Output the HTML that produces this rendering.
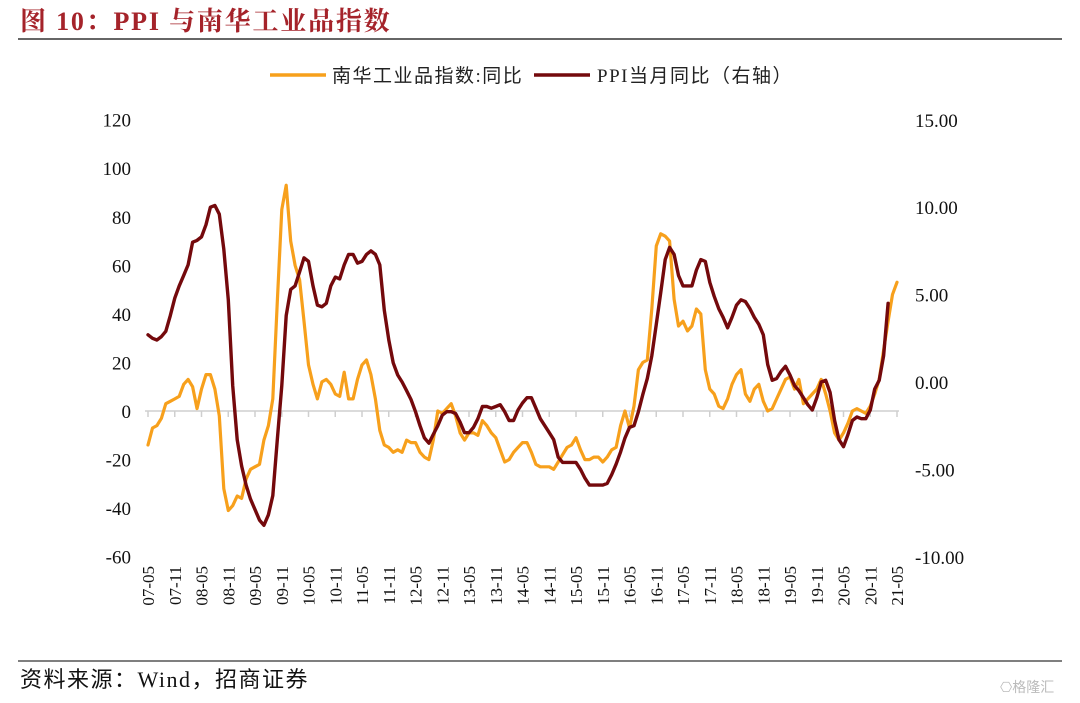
<!DOCTYPE html>
<html><head><meta charset="utf-8">
<style>
body{margin:0;background:#fff;}
#wrap{position:relative;width:1080px;height:703px;overflow:hidden;font-family:"Liberation Serif","Noto Serif CJK SC",serif;}
</style></head>
<body>
<div id="wrap">
<svg id="chart" width="1080" height="703" viewBox="0 0 1080 703" xmlns="http://www.w3.org/2000/svg">
  <text x="20" y="30" font-size="26" font-weight="bold" letter-spacing="1.8" fill="#a5232a" font-family="'Liberation Serif','Noto Serif CJK SC',serif">图 10：PPI 与南华工业品指数</text>
  <line x1="18" y1="39" x2="1062" y2="39" stroke="#333" stroke-width="1.5"/>
  <g>
    <g>
      <line x1="270" y1="75" x2="326" y2="75" stroke="#f7a01c" stroke-width="3.5"/>
      <text x="332" y="82" font-size="19" letter-spacing="1.5" fill="#222" font-family="'Liberation Serif','Noto Sans CJK SC',serif">南华工业品指数:同比</text>
    </g>
    <g>
      <line x1="534" y1="75" x2="590" y2="75" stroke="#74090c" stroke-width="3.5"/>
      <text x="597" y="82" font-size="19" letter-spacing="1.5" fill="#222" font-family="'Liberation Serif','Noto Sans CJK SC',serif">PPI当月同比（右轴）</text>
    </g>
  </g>
  <g id="axes"></g>
  <g id="series"></g>
  <line x1="18" y1="661" x2="1062" y2="661" stroke="#333" stroke-width="1.2"/>
  <text x="20" y="687" font-size="22" letter-spacing="1.5" fill="#111" font-family="'Liberation Serif','Noto Sans CJK SC',serif">资料来源：Wind，招商证券</text>
  <text x="1000" y="692" font-size="14" fill="#bbb" font-family="'Liberation Sans','Noto Sans CJK SC',sans-serif">⎔格隆汇</text>
</svg>
</div>
<script>
const leftTicks = [120,100,80,60,40,20,0,-20,-40,-60];
const rightTicks = ["15.00","10.00","5.00","0.00","-5.00","-10.00"];
const xLabels = ["07-05","07-11","08-05","08-11","09-05","09-11","10-05","10-11","11-05","11-11","12-05","12-11","13-05","13-11","14-05","14-11","15-05","15-11","16-05","16-11","17-05","17-11","18-05","18-11","19-05","19-11","20-05","20-11","21-05"];
const nanhua = [-14,-7,-6,-3,3,4,5,6,11,13,10,1,9,15,15,9,-2,-32,-41,-39,-35,-36,-28,-24,-23,-22,-12,-6,5,45,83,93,70,60,54,37,19,11,5,12,13,11,7,6,16,5,5,13,19,21,15,5,-8,-14,-15,-17,-16,-17,-12,-13,-13,-17,-19,-20,-12,0,-1,1,3,-2,-9,-12,-9,-9,-10,-4,-6,-9,-11,-16,-21,-20,-17,-15,-13,-13,-17,-22,-23,-23,-23,-24,-21,-18,-15,-14,-11,-16,-20,-20,-19,-19,-21,-19,-16,-15,-6,0,-7,2,17,20,21,42,68,73,72,70,46,35,37,33,35,42,40,17,9,7,2,1,5,11,15,17,7,4,9,11,4,0,1,5,9,13,14,9,13,3,5,7,9,13,7,0,-9,-12,-9,-5,0,1,0,-1,2,7,13,25,37,48,53];
const ppi = [2.7,2.5,2.4,2.6,2.9,3.8,4.8,5.5,6.1,6.7,8.0,8.1,8.3,9.0,10.0,10.1,9.6,7.6,4.7,-0.2,-3.3,-4.8,-5.9,-6.7,-7.3,-7.9,-8.2,-7.6,-6.5,-3.3,-0.2,3.8,5.3,5.5,6.3,7.1,6.9,5.5,4.4,4.3,4.5,5.5,6.0,5.9,6.7,7.3,7.3,6.8,6.9,7.3,7.5,7.3,6.7,4.1,2.4,1.1,0.4,0,-0.5,-1.0,-1.7,-2.5,-3.2,-3.5,-3.0,-2.5,-1.9,-1.7,-1.7,-1.8,-2.3,-2.9,-2.9,-2.6,-2.1,-1.4,-1.4,-1.5,-1.4,-1.3,-1.7,-2.2,-2.2,-1.6,-1.2,-0.9,-0.9,-1.5,-2.1,-2.5,-2.9,-3.3,-4.3,-4.6,-4.6,-4.6,-4.6,-5.0,-5.5,-5.9,-5.9,-5.9,-5.9,-5.8,-5.3,-4.7,-4.0,-3.2,-2.6,-2.5,-1.7,-0.7,0.2,1.5,3.3,5.1,7.0,7.7,7.3,6.1,5.5,5.5,5.5,6.4,7.0,6.9,5.7,4.9,4.2,3.7,3.1,3.7,4.4,4.7,4.6,4.2,3.7,3.3,2.7,1.0,0.1,0.2,0.6,0.9,0.4,-0.2,-0.5,-0.9,-1.3,-1.6,-0.9,0,0.1,-0.6,-2.2,-3.3,-3.7,-3.0,-2.2,-2.0,-2.1,-2.1,-1.6,-0.4,0.1,1.5,4.5];

const NS='http://www.w3.org/2000/svg';
const X0=148, X1=897, NM=168;
const x = i => X0 + (X1-X0)*i/NM;
const yL = v => 411 - (v)*(437/180);
const yR = v => 382 - v*(437/25);
const axes=document.getElementById('axes'), ser=document.getElementById('series');
function mk(tag, attrs, parent){const e=document.createElementNS(NS,tag);for(const k in attrs)e.setAttribute(k,attrs[k]);parent.appendChild(e);return e;}

leftTicks.forEach(v=>{
  const t=mk('text',{x:131,y:yL(v)+7,'text-anchor':'end','font-size':19,fill:'#111'},axes);
  t.textContent=v;
  
  
});
rightTicks.forEach(s=>{
  const t=mk('text',{x:915,y:yR(parseFloat(s))+7,'font-size':19,fill:'#111'},axes);
  t.textContent=s;
  
  
});
const zl=mk('line',{x1:145,y1:yL(0),x2:899,y2:yL(0),stroke:'#cfcfcf','stroke-width':1.5},axes);


xLabels.forEach((s,k)=>{
  const xx=x(k*6);
  const tk=mk('line',{x1:xx,y1:yL(0),x2:xx,y2:yL(0)+6,stroke:'#cfcfcf','stroke-width':1.5},axes);
  
  
  const t=mk('text',{x:0,y:0,'text-anchor':'end','font-size':17,fill:'#111',transform:`translate(${xx+6},566) rotate(-90)`},axes);
  t.textContent=s;
  
  
});
function path(arr, yf){return arr.map((v,i)=>(i?'L':'M')+x(i).toFixed(1)+','+yf(v).toFixed(1)).join('');}
const p1=mk('path',{d:path(nanhua,yL),fill:'none',stroke:'#f7a01c','stroke-width':3.2,'stroke-linejoin':'round','stroke-linecap':'round'},ser);


const p2=mk('path',{d:path(ppi,yR),fill:'none',stroke:'#74090c','stroke-width':3.4,'stroke-linejoin':'round','stroke-linecap':'round'},ser);


</script>
</body></html>
